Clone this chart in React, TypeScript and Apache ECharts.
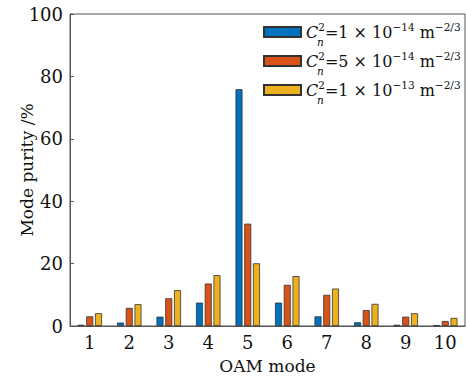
import React, { useEffect, useRef } from "react";
import * as echarts from "echarts";

const categories = ["1", "2", "3", "4", "5", "6", "7", "8", "9", "10"];
const seriesKeys = ["s1", "s2", "s3"];
const seriesExponents = [
  { coef: "1", exp: "−14" },
  { coef: "5", exp: "−14" },
  { coef: "1", exp: "−13" },
];
const valuesS1 = [0.4, 1.1, 3.0, 7.5, 75.9, 7.5, 3.1, 1.2, 0.4, 0.3];
const valuesS2 = [3.1, 5.8, 8.9, 13.6, 32.8, 13.2, 10.0, 5.1, 3.0, 1.6];
const valuesS3 = [4.1, 7.0, 11.5, 16.3, 20.1, 16.0, 12.0, 7.1, 4.1, 2.6];
const colors = ["#0072BD", "#D95319", "#EDB120"];

const FONT = "DejaVu Serif";

export default function App() {
  const ref = useRef<HTMLDivElement>(null);
  useEffect(() => {
    if (!ref.current) return;
    const chart = echarts.init(ref.current, null, { renderer: "svg" });
    const allValues = [valuesS1, valuesS2, valuesS3];
    const legendLeft = 263;
    const legendTop = 21;
    const rowStep = 29;
    chart.setOption({
      animation: false,
      textStyle: { fontFamily: FONT, color: "#111" },
      grid: {
        left: 70,
        right: 1,
        top: 14,
        bottom: 53,
        show: true,
        borderColor: "#555",
        borderWidth: 1,
        containLabel: false,
      },
      legend: {
        orient: "vertical",
        left: legendLeft,
        top: legendTop,
        padding: 0,
        itemWidth: 37,
        itemHeight: 10,
        itemGap: 10,
        icon: "rect",
        data: seriesKeys,
        formatter: (name: string) => {
          const i = seriesKeys.indexOf(name);
          const e = seriesExponents[i];
          return `{c|C}{sup|2}{t|=${e.coef} × 10}{sup|${e.exp}}{t| m}{sup|−2/3}`;
        },
        textStyle: {
          rich: {
            t: { fontFamily: FONT, fontSize: 16, lineHeight: 22, color: "#111", verticalAlign: "middle" },
            c: { fontFamily: FONT, fontSize: 16, lineHeight: 22, color: "#111", fontStyle: "italic", verticalAlign: "middle" },
            sup: { fontFamily: FONT, fontSize: 10.5, lineHeight: 10, color: "#111", verticalAlign: "top" },
          },
        },
      },
      graphic: seriesKeys.map((_, i) => ({
        type: "text",
        left: legendLeft + 37 + 5 + 12,
        top: 36 + i * rowStep,
        style: {
          text: "n",
          font: `italic 10.5px "${FONT}"`,
          fill: "#111",
        },
      })),
      xAxis: {
        type: "category",
        data: categories,
        name: "OAM mode",
        nameLocation: "middle",
        nameGap: 31,
        nameMoveOverlap: false,
        nameTextStyle: { fontFamily: FONT, fontSize: 17, color: "#111" },
        axisLine: { lineStyle: { color: "#555", width: 1 } },
        axisTick: { inside: true, alignWithLabel: true, length: 4, lineStyle: { color: "#555" } },
        axisLabel: { fontFamily: FONT, fontSize: 18, color: "#111", margin: 7 },
      },
      yAxis: {
        type: "value",
        min: 0,
        max: 100,
        interval: 20,
        name: "Mode purity /%",
        nameLocation: "middle",
        nameGap: 35,
        nameMoveOverlap: false,
        nameTextStyle: { fontFamily: FONT, fontSize: 17, color: "#111" },
        axisLine: { show: true, lineStyle: { color: "#555", width: 1 } },
        axisTick: { show: true, inside: true, length: 4, lineStyle: { color: "#555" } },
        splitLine: { show: false },
        axisLabel: { fontFamily: FONT, fontSize: 18, color: "#111", margin: 7 },
      },
      series: seriesKeys.map((k, i) => ({
        name: k,
        type: "bar",
        data: allValues[i],
        barWidth: 7,
        barGap: "25%",
        itemStyle: { color: colors[i], borderColor: "#333", borderWidth: 0.8 },
      })),
    });
    return () => chart.dispose();
  }, []);
  return <div ref={ref} style={{ width: 466, height: 379, position: "absolute", left: 0, top: 0 }} />;
}
